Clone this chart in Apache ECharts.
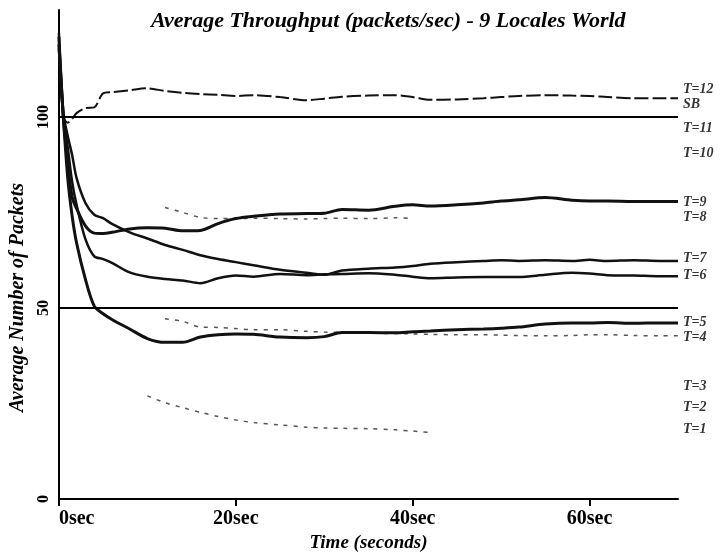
<!DOCTYPE html>
<html>
<head>
<meta charset="utf-8">
<script src="https://cdn.jsdelivr.net/npm/echarts@6/dist/echarts.min.js"></script>
<style>
  html, body { margin: 0; padding: 0; background: #fff; }
  #chart { width: 720px; height: 558px; }
</style>
</head>
<body>
<div id="chart"></div>
<script>
// time axis (seconds)
const times = [0, 0.5, 1, 1.5, 2, 3, 4, 5, 6, 8, 10, 12, 14, 16, 18, 20, 22, 25, 28, 30, 32, 35, 38, 40, 42, 45, 48, 50, 52, 55, 58, 60, 62, 65, 68, 70];

// solid / dashed curves
const seriesT12 = [120, 100, 98.5, 99.5, 101, 102.3, 102.5, 106.2, 106.5, 107, 107.5, 106.8, 106.3, 106, 105.8, 105.5, 105.7, 105.2, 104.4, 104.8, 105.3, 105.6, 105.7, 105.2, 104.5, 104.6, 104.9, 105.2, 105.5, 105.7, 105.6, 105.5, 105.2, 104.9, 104.9, 104.9];
const seriesT9 = [121, 100, 88, 79, 76, 71.5, 69.6, 69.5, 69.8, 70.7, 71, 70.9, 70.2, 70.3, 72.1, 73.4, 74, 74.6, 74.7, 74.8, 75.8, 75.6, 76.6, 77, 76.7, 77, 77.5, 78, 78.3, 78.9, 78.2, 78, 78, 77.9, 77.9, 77.9];
const seriesT7 = [122, 101, 95, 90, 84, 77.5, 74.4, 73.5, 72, 69.8, 68.2, 66.5, 65.2, 63.8, 62.8, 62, 61.2, 60, 59.2, 58.7, 59.8, 60.3, 60.6, 61, 61.6, 62, 62.3, 62.5, 62.3, 62.5, 62.3, 62.6, 62.3, 62.5, 62.3, 62.3];
const seriesT6 = [118, 100, 92, 83, 77, 68, 63.5, 62.8, 61.8, 59.3, 58.2, 57.6, 57.2, 56.5, 57.8, 58.5, 58.2, 58.9, 58.6, 58.8, 58.9, 59.1, 58.7, 58.2, 57.8, 58, 58.1, 58.1, 58.1, 58.7, 59.2, 59, 58.6, 58.5, 58.3, 58.3];
const seriesT5 = [119, 100, 84, 74, 67, 57.5, 50.5, 48.5, 47, 44.5, 42, 41, 41, 42.4, 43, 43.2, 43.1, 42.4, 42.2, 42.5, 43.6, 43.6, 43.5, 43.8, 44, 44.3, 44.5, 44.7, 45, 45.8, 46.1, 46.1, 46.2, 46, 46.1, 46.1];

// faint (barely printed) curves
const seriesT8 = [null, null, null, null, null, null, null, null, null, null, null, 76.3, 75, 73.7, 73.4, 73.4, 73.5, 73.4, 73.3, 73.4, 73.5, 73.4, 73.6, 73.4, null, null, null, null, null, null, null, null, null, null, null, null];
const seriesT4 = [null, null, null, null, null, null, null, null, null, null, null, 47.2, 46.5, 45, 44.9, 44.6, 44.3, 44.3, 43.9, 43.7, 43.6, 43.4, 43.3, 43.2, 43.1, 43, 43, 42.9, 42.8, 42.7, 42.8, 43, 43, 42.8, 42.7, 42.7];
const seriesT1 = [null, null, null, null, null, null, null, null, null, null, 27, 25.2, 23.9, 22.7, 21.6, 20.7, 20, 19.4, 18.8, 18.6, 18.5, 18.4, 18.1, 17.8, 17.4, null, null, null, null, null, null, null, null, null, null, null];

// horizontal reference levels
const refLevels = [100, 50];

// right-hand labels
const labelNames = ['T=12', 'SB', 'T=11', 'T=10', 'T=9', 'T=8', 'T=7', 'T=6', 'T=5', 'T=4', 'T=3', 'T=2', 'T=1'];
const labelValues = [107.3, 103.4, 96.9, 90.4, 77.6, 73.7, 63.0, 58.6, 46.1, 42.4, 29.4, 24.0, 18.2];

const xTicks = [0, 20, 40, 60];
const yTicks = [0, 50, 100];

const FONT = '"Liberation Serif", "Times New Roman", serif';

const chart = echarts.init(document.getElementById('chart'));

const pair = arr => times.map((t, i) => [t, arr[i]]);

function solid(name, arr, width) {
    return {
        name: name, type: 'line', data: pair(arr), symbol: 'none', smooth: 0.3,
        connectNulls: false, lineStyle: { color: '#111', width: width || 3 }, z: 3
    };
}
function faint(name, arr) {
    return {
        name: name, type: 'line', data: pair(arr), symbol: 'none', smooth: 0.3,
        connectNulls: false, lineStyle: { color: '#555', width: 1.5, type: [4, 6] }, z: 2
    };
}

chart.setOption({
    animation: false,
    backgroundColor: '#fff',
    title: {
        text: 'Average Throughput (packets/sec) - 9 Locales World',
        left: 146, top: 5,
        textStyle: { fontFamily: FONT, fontStyle: 'italic', fontWeight: 'bold', fontSize: 22, color: '#000' }
    },
    grid: { left: 58, right: 42, top: 10, bottom: 58 },
    xAxis: {
        type: 'value', min: 0, max: 70, interval: 20,
        name: 'Time (seconds)', nameLocation: 'middle', nameGap: 35,
        nameTextStyle: { fontFamily: FONT, fontStyle: 'italic', fontWeight: 'bold', fontSize: 19, color: '#000' },
        axisLine: { lineStyle: { color: '#000', width: 2 } },
        axisTick: { show: true, length: 7, customValues: xTicks, lineStyle: { color: '#000', width: 2 } },
        axisLabel: {
            customValues: xTicks, margin: 10, alignMinLabel: 'left',
            formatter: v => v + 'sec',
            fontFamily: FONT, fontWeight: 'bold', fontSize: 20, color: '#000'
        },
        splitLine: { show: false }
    },
    yAxis: {
        type: 'value', min: 0, max: 128, interval: 50,
        name: 'Average Number of Packets', nameLocation: 'middle', nameGap: 24,
        nameTextStyle: {
            fontFamily: FONT, fontStyle: 'italic', fontWeight: 'bold', fontSize: 20, color: '#000',
            padding: [0, 86, 0, 0]
        },
        axisLine: { show: true, lineStyle: { color: '#000', width: 2 } },
        axisTick: { show: false },
        axisLabel: {
            customValues: yTicks, rotate: 90, margin: 7,
            fontFamily: FONT, fontWeight: 'bold', fontSize: 16, color: '#000'
        },
        splitLine: { show: false }
    },
    series: [
        {
            name: 'ref', type: 'line', data: [], symbol: 'none',
            markLine: {
                silent: true, symbol: 'none', label: { show: false },
                lineStyle: { color: '#000', width: 2, type: 'solid' },
                data: refLevels.map(v => ({ yAxis: v }))
            }
        },
        {
            name: 'T=12', type: 'line', data: pair(seriesT12), symbol: 'none', smooth: 0.3,
            lineStyle: { color: '#111', width: 2, type: [14, 4] }, z: 3
        },
        solid('T=9', seriesT9),
        solid('T=7', seriesT7, 2.5),
        solid('T=6', seriesT6, 2.5),
        solid('T=5', seriesT5),
        faint('T=8', seriesT8),
        faint('T=4', seriesT4),
        faint('T=1', seriesT1),
        {
            name: 'labels', type: 'scatter', symbolSize: 0, clip: false,
            data: labelValues.map(v => [70, v]),
            label: {
                show: true, position: 'right', distance: 5,
                formatter: p => labelNames[p.dataIndex],
                fontFamily: FONT, fontStyle: 'italic', fontWeight: 'bold', fontSize: 14, color: '#000'
            }
        }
    ]
});
</script>
</body>
</html>
